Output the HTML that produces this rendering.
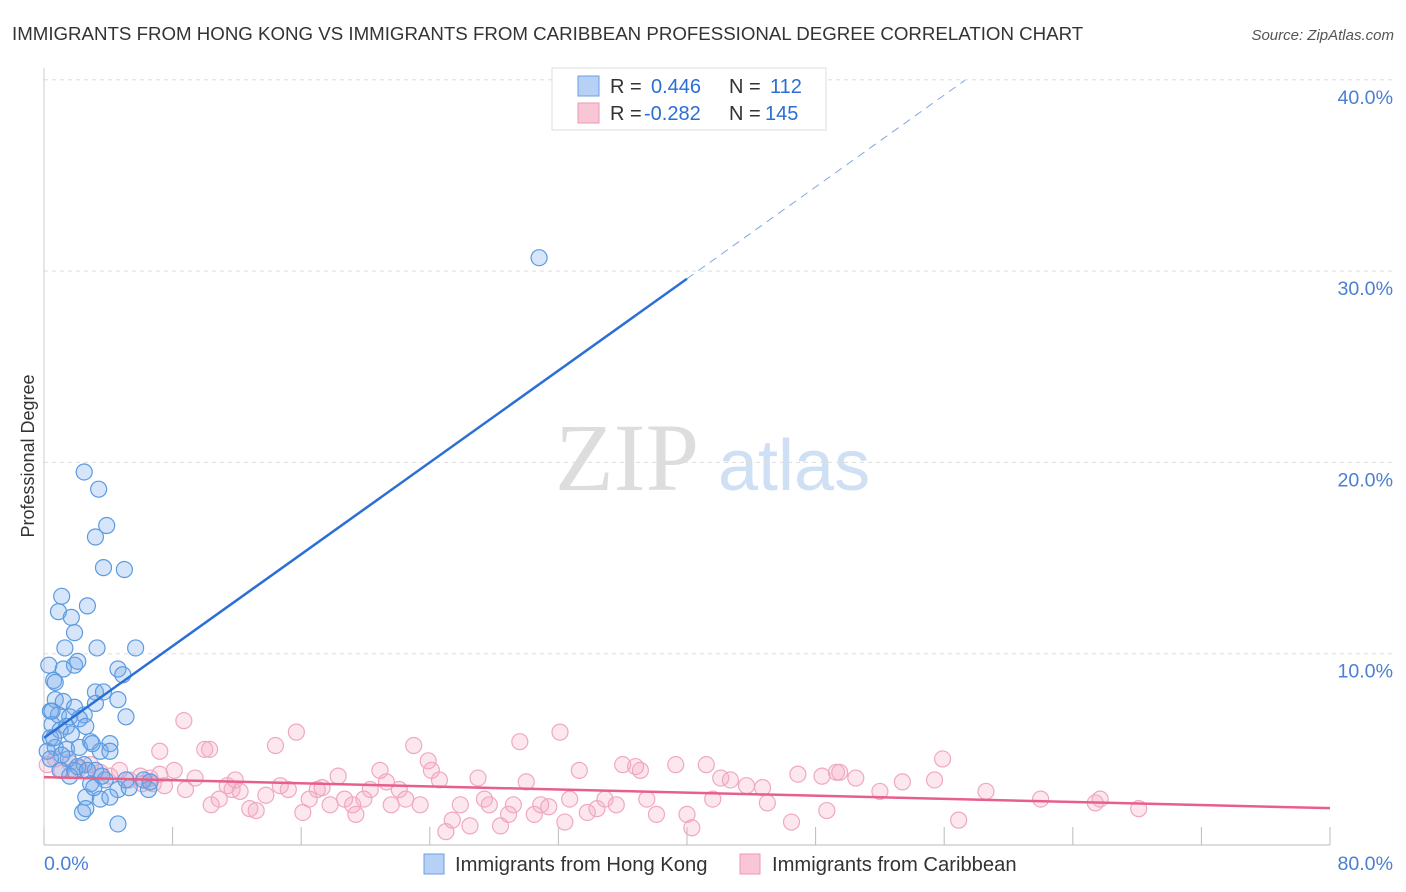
<!DOCTYPE html>
<html><head><meta charset="utf-8"><style>
body{margin:0;background:#fff;font-family:"Liberation Sans",sans-serif;}
#wrap{position:relative;width:1406px;height:892px;overflow:hidden}
</style></head><body>
<div id="wrap">
<svg id="svg" width="1406" height="892" xmlns="http://www.w3.org/2000/svg">
<text x="12" y="40" font-size="18.7" fill="#333">IMMIGRANTS FROM HONG KONG VS IMMIGRANTS FROM CARIBBEAN PROFESSIONAL DEGREE CORRELATION CHART</text>
<text x="1394" y="40" font-size="15" fill="#555" font-style="italic" text-anchor="end">Source: ZipAtlas.com</text>
<text x="34" y="456" font-size="18" fill="#333" text-anchor="middle" transform="rotate(-90 34 456)">Professional Degree</text>
<g>
<text x="555" y="490" font-size="96" fill="#ddd" font-family="Liberation Serif,serif">ZIP</text>
<text x="718" y="490" font-size="72" fill="#cfe0f4">atlas</text>
</g>
<g id="grid"></g>
<g id="axes"></g>
<g id="pink"></g>
<g id="blue"></g>
<g id="lines"></g>
<g>
<rect x="552" y="68" width="274" height="62" fill="#fff" stroke="#ddd"/>
<rect x="578" y="76" width="21" height="20" fill="#b6d1f5" stroke="#6a9fe2"/>
<rect x="578" y="103" width="21" height="20" fill="#f8c6d5" stroke="#ee9ab5"/>
<text x="610" y="93" font-size="20" fill="#333">R = <tspan fill="#2a6fd6" x="651">0.446</tspan><tspan fill="#333" x="729">N = </tspan><tspan fill="#2a6fd6" x="770">112</tspan></text>
<text x="610" y="120" font-size="20" fill="#333">R = <tspan fill="#2a6fd6" x="644">-0.282</tspan><tspan fill="#333" x="729">N = </tspan><tspan fill="#2a6fd6" x="765">145</tspan></text>
</g>
<g>
<rect x="424" y="854" width="20" height="20" fill="#b6d1f5" stroke="#6a9fe2"/>
<text x="455" y="871" font-size="20.2" fill="#333">Immigrants from Hong Kong</text>
<rect x="740" y="854" width="20" height="20" fill="#f8c6d5" stroke="#ee9ab5"/>
<text x="772" y="871" font-size="20.2" fill="#333">Immigrants from Caribbean</text>
</g>
</svg>
</div>
<script>
const yTicks=[10,20,30,40];
const yTickLabels=["10.0%","20.0%","30.0%","40.0%"];
const xLabels=["0.0%","80.0%"];
const blueX=[2.5,3.4,3.9,3.2,3.7,5.0,1.1,0.9,2.7,1.7,1.9,1.3,3.3,5.7,0.3,1.2,1.9,2.1,4.6,4.9,0.6,0.7,3.2,3.7,0.7,1.2,4.6,3.2,1.9,0.4,0.9,1.6,2.5,5.1,1.4,2.2,0.5,2.6,0.4,1.0,1.7,2.9,4.1,0.7,1.4,2.2,3.5,3.0,1.5,2.5,4.1,0.2,1.1,1.9,3.2,3.8,4.6,2.9,2.6,3.5,4.1,5.3,6.5,2.4,2.6,4.6,2.1,0.6,1.6,6.2,6.6,0.5,2.7,3.1,3.6,1.0,0.4,5.1,30.8];
const blueY=[19.5,18.6,16.7,16.1,14.5,14.4,13.0,12.2,12.5,11.9,11.1,10.3,10.3,10.3,9.4,9.2,9.4,9.6,9.2,8.9,8.6,8.5,8.0,8.0,7.6,7.5,7.6,7.4,7.2,7.0,6.8,6.7,6.8,6.7,6.2,6.6,6.3,6.2,5.6,6.0,5.8,5.4,5.3,5.1,5.0,5.1,4.9,5.3,4.5,4.2,4.9,4.9,4.7,3.9,3.9,3.4,2.9,3.2,2.5,2.4,2.5,3.0,2.9,1.7,1.9,1.1,4.1,5.6,3.6,3.4,3.3,7.0,3.9,3.0,3.6,3.9,4.5,3.4,30.7];
const pinkX=[0.2,0.7,1.1,1.6,2.2,2.9,3.5,4.1,4.7,5.3,6.0,6.6,7.2,7.5,8.1,8.8,9.4,10.0,10.4,10.9,11.4,11.7,12.2,12.8,13.2,13.8,14.4,14.7,15.2,15.7,16.1,16.5,17.0,17.3,17.8,18.3,18.7,19.2,19.4,19.9,20.3,20.9,21.3,21.6,22.1,22.5,23.0,23.4,23.9,24.1,24.6,25.0,25.4,25.9,26.5,27.0,27.4,27.7,28.4,28.9,29.2,29.6,30.0,30.5,30.9,31.4,32.1,32.4,32.7,33.3,33.8,34.4,34.9,35.6,36.0,36.8,37.1,37.5,38.1,39.3,40.0,40.3,41.2,41.6,42.1,42.7,43.7,44.7,45.0,46.5,46.9,48.4,48.7,49.3,49.5,50.5,52.0,53.4,55.4,55.9,56.9,58.6,62.0,65.4,65.7,68.1,8.7,7.2,10.3,11.9,6.8,6.1];
const pinkY=[4.2,4.5,3.9,4.3,4.0,4.2,3.8,3.6,3.9,3.4,3.6,3.5,3.7,3.1,3.9,2.9,3.5,5.0,2.1,2.4,3.1,2.9,2.8,1.9,1.8,2.6,5.2,3.1,2.9,5.9,1.7,2.4,2.9,3.0,2.1,3.6,2.4,2.1,1.6,2.4,2.9,3.9,3.3,2.1,2.9,2.4,5.2,2.1,4.4,3.9,3.4,0.7,1.3,2.1,1.0,3.5,2.4,2.1,1.0,1.6,2.1,5.4,3.3,1.6,2.1,2.0,5.9,1.2,2.4,3.9,1.7,1.9,2.4,2.1,4.2,4.1,3.9,2.4,1.6,4.2,1.6,0.9,4.2,2.4,3.5,3.4,3.1,3.0,2.2,1.2,3.7,3.6,1.8,3.8,3.8,3.5,2.8,3.3,3.4,4.5,1.3,2.8,2.4,2.2,2.4,1.9,6.5,4.9,5.0,3.4,3.2,3.2];
const NS="http://www.w3.org/2000/svg";
const X0=44,X1=1330,Y0=845,PY=19.13;
const sx=v=>X0+v*(X1-X0)/80;
const sy=v=>Y0-v*PY;
function mk(tag,attrs,parent){const e=document.createElementNS(NS,tag);for(const k in attrs)e.setAttribute(k,attrs[k]);parent.appendChild(e);return e;}
const grid=document.getElementById('grid'),axes=document.getElementById('axes');
yTicks.forEach((t,i)=>{
 const l=mk('line',{x1:X0,x2:1394,y1:sy(t),y2:sy(t),stroke:'#ddd','stroke-dasharray':'4,4'},grid);
 
 
 const tx=mk('text',{x:1393,y:sy(t)+24,'font-size':19.6,fill:'#4a7fd4','text-anchor':'end'},axes);
 tx.textContent=yTickLabels[i];
 
 
});
const yax=mk('line',{x1:X0,x2:X0,y1:68,y2:Y0,stroke:'#ccc'},axes);


const xax=mk('line',{x1:X0,x2:X1,y1:Y0,y2:Y0,stroke:'#bbb'},axes);


for(let i=0;i<=10;i++){
 const t=mk('line',{x1:sx(i*8),x2:sx(i*8),y1:Y0-18,y2:Y0,stroke:'#bbb'},axes);
 
 
}
const xl0=mk('text',{x:44,y:870,'font-size':19.6,fill:'#4a7fd4'},axes);xl0.textContent=xLabels[0];


const xl1=mk('text',{x:1393,y:870,'font-size':19.6,fill:'#4a7fd4','text-anchor':'end'},axes);xl1.textContent=xLabels[1];


const pg=document.getElementById('pink');
pinkX.forEach((v,i)=>{const c=mk('circle',{cx:sx(v),cy:sy(pinkY[i]),r:8,fill:'rgba(244,170,195,0.28)',stroke:'#f0a8c0','stroke-width':1.2},pg);
 
 });
const bg=document.getElementById('blue');
blueX.forEach((v,i)=>{const c=mk('circle',{cx:sx(v),cy:sy(blueY[i]),r:8,fill:'rgba(120,170,235,0.3)',stroke:'#5b9be0','stroke-width':1.2},bg);
 
 });
const lg=document.getElementById('lines');
const bInt=5.6,bSlope=0.6,pInt=3.55,pSlope=-0.0203;
const bl=mk('line',{x1:sx(0),y1:sy(bInt),x2:sx(40),y2:sy(bInt+bSlope*40),stroke:'#2a6fd6','stroke-width':2.5},lg);


const bd=mk('line',{x1:sx(40),y1:sy(bInt+bSlope*40),x2:sx(57.3),y2:sy(bInt+bSlope*57.3),stroke:'#7fa8e0','stroke-width':1,'stroke-dasharray':'8,6'},lg);


const pl=mk('line',{x1:sx(0),y1:sy(pInt),x2:sx(80),y2:sy(pInt+pSlope*80),stroke:'#e8608a','stroke-width':2.5},lg);


</script>
</body></html>
